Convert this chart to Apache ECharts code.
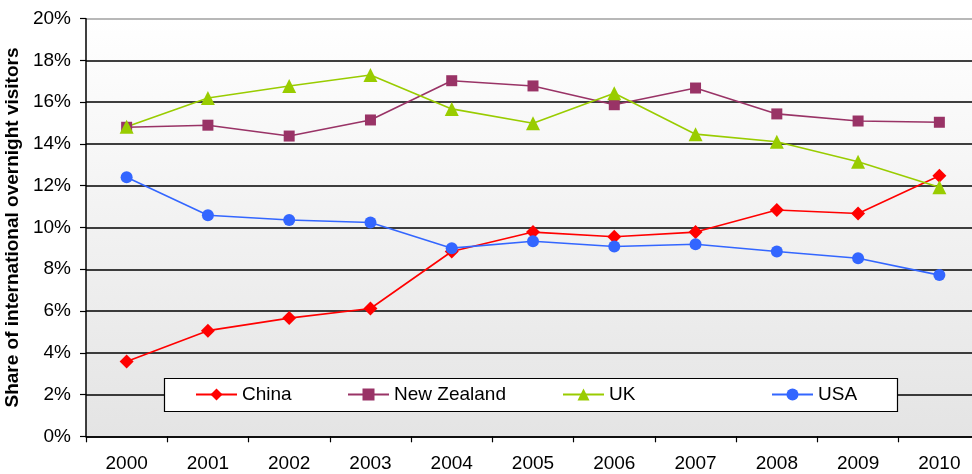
<!DOCTYPE html>
<html>
<head>
<meta charset="utf-8">
<script src="https://cdn.jsdelivr.net/npm/echarts@6/dist/echarts.min.js"></script>
<style>
  html, body { margin: 0; padding: 0; background: #fff; }
  #chart { width: 972px; height: 474px; }
</style>
</head>
<body>
<div id="chart"></div>
<script>
const years = ['2000', '2001', '2002', '2003', '2004', '2005', '2006', '2007', '2008', '2009', '2010']
const china = [3.58, 5.06, 5.66, 6.12, 8.85, 9.78, 9.56, 9.78, 10.84, 10.67, 12.48]
const newZealand = [14.8, 14.9, 14.38, 15.15, 17.03, 16.78, 15.88, 16.68, 15.44, 15.1, 15.04]
const uk = [14.82, 16.2, 16.78, 17.3, 15.68, 14.99, 16.43, 14.47, 14.11, 13.15, 11.93]
const usa = [12.41, 10.59, 10.36, 10.24, 9.01, 9.34, 9.09, 9.2, 8.85, 8.53, 7.72]

const font = 'Liberation Sans, Arial, sans-serif'

// 11 split lines from 0% to 20%, the top one is grey
const splitColors = ['#000', '#000', '#000', '#000', '#000', '#000', '#000', '#000', '#000', '#000', '#a0a0a0']

const makeSeries = (name, data, color, symbol, size) => ({
  name: name,
  type: 'line',
  data: data,
  symbol: symbol,
  symbolSize: size,
  showSymbol: true,
  itemStyle: { color: color },
  lineStyle: { color: color, width: 1.6 },
  emphasis: { disabled: true },
})

// one legend per entry so they sit where Excel put them
const makeLegend = (name, left) => ({
  left: left,
  top: 385,
  padding: 0,
  itemWidth: 41,
  itemHeight: 15,
  itemGap: 0,
  textStyle: { fontFamily: font, fontSize: 19, color: '#000', padding: [0, 0, 0, 0] },
  data: [name],
})

const options = {
  animation: false,
  grid: {
    left: 86,
    top: 18.7,
    bottom: 37.7,
    width: 894,
    outerBoundsMode: 'none',
    containLabel: false,
    show: true,
    borderWidth: 0,
    backgroundColor: {
      type: 'linear', x: 0, y: 0, x2: 0, y2: 1,
      colorStops: [
        { offset: 0, color: '#ffffff' },
        { offset: 1, color: '#e4e4e4' },
      ],
    },
  },
  graphic: [
    {
      type: 'rect',
      z: 3,
      shape: { x: 164.5, y: 378.5, width: 733, height: 33 },
      style: { fill: '#fff', stroke: '#000', lineWidth: 1.2 },
    },
  ],
  legend: [
    makeLegend('China', 195),
    makeLegend('New Zealand', 347),
    makeLegend('UK', 562),
    makeLegend('USA', 771),
  ],
  xAxis: {
    type: 'category',
    data: years,
    boundaryGap: true,
    axisLine: { lineStyle: { color: '#000', width: 1.5 } },
    axisTick: { show: true, interval: 0, length: 6, lineStyle: { color: '#000', width: 1.2 } },
    axisLabel: { fontFamily: font, fontSize: 19, color: '#000', margin: 18, interval: 0 },
  },
  yAxis: {
    type: 'value',
    min: 0,
    max: 20,
    interval: 2,
    name: 'Share of international overnight visitors',
    nameLocation: 'middle',
    nameRotate: 90,
    nameGap: 53,
    nameTextStyle: { fontFamily: font, fontSize: 19, fontWeight: 'bold', color: '#000' },
    axisLine: { show: true, lineStyle: { color: '#000', width: 1.5 } },
    axisTick: { show: true, length: 6, lineStyle: { color: '#000', width: 1.2 } },
    axisLabel: { fontFamily: font, fontSize: 19, color: '#000', margin: 15, formatter: '{value}%' },
    splitLine: { show: true, lineStyle: { color: splitColors, width: 1.5 } },
  },
  series: [
    makeSeries('China', china, '#ff0000', 'diamond', 14),
    makeSeries('New Zealand', newZealand, '#993366', 'rect', 11),
    makeSeries('UK', uk, '#99cc00', 'triangle', 14),
    makeSeries('USA', usa, '#3366ff', 'circle', 12),
  ],
}

const lineChart = echarts.init(document.getElementById('chart'))
lineChart.setOption(options)
</script>
</body>
</html>
